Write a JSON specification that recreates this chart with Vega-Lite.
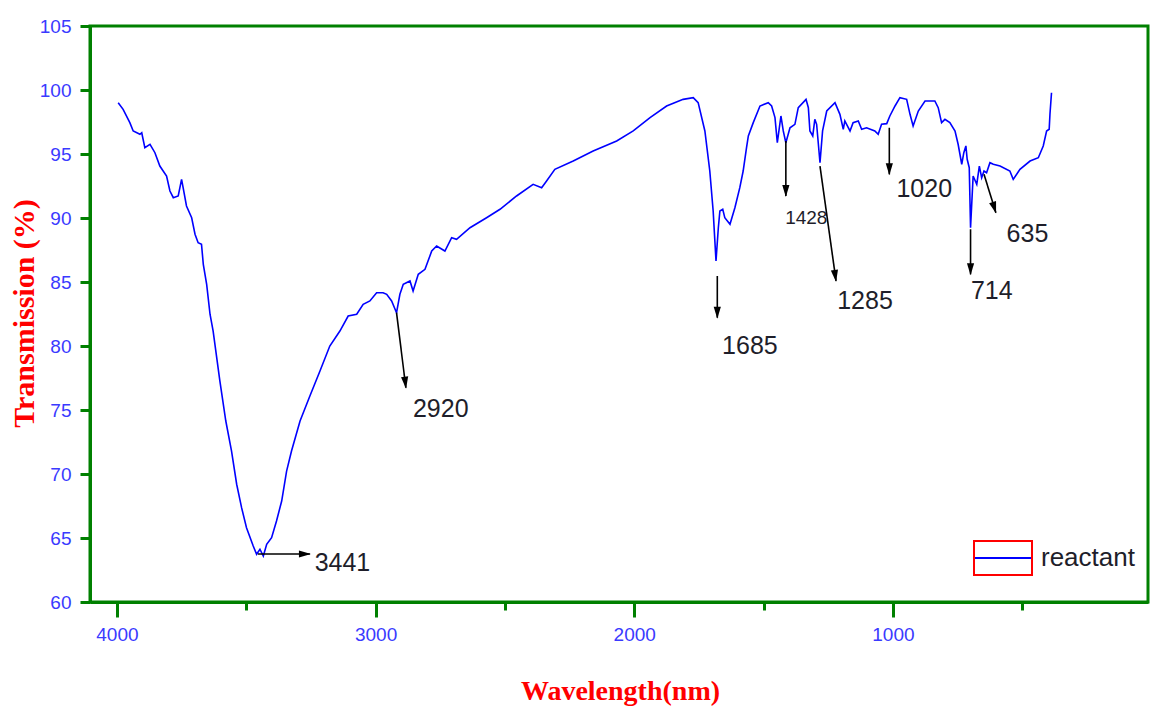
{
  "$schema": "https://vega.github.io/schema/vega-lite/v6.json",
  "width": 1058,
  "height": 576,
  "autosize": {"type": "none"},
  "padding": {"left": 90, "top": 26, "right": 6, "bottom": 106},
  "background": "white",
  "config": {"view": {"stroke": "#008000", "strokeWidth": 3}},
  "datasets": {
    "spectrum": [
      {"wavelength": 3995, "transmission": 99.01, "sample": "reactant"},
      {"wavelength": 3976, "transmission": 98.49, "sample": "reactant"},
      {"wavelength": 3950, "transmission": 97.45, "sample": "reactant"},
      {"wavelength": 3937, "transmission": 96.8, "sample": "reactant"},
      {"wavelength": 3911, "transmission": 96.54, "sample": "reactant"},
      {"wavelength": 3904, "transmission": 96.66, "sample": "reactant"},
      {"wavelength": 3892, "transmission": 95.49, "sample": "reactant"},
      {"wavelength": 3872, "transmission": 95.76, "sample": "reactant"},
      {"wavelength": 3853, "transmission": 95.1, "sample": "reactant"},
      {"wavelength": 3834, "transmission": 94.06, "sample": "reactant"},
      {"wavelength": 3808, "transmission": 93.28, "sample": "reactant"},
      {"wavelength": 3795, "transmission": 92.11, "sample": "reactant"},
      {"wavelength": 3782, "transmission": 91.59, "sample": "reactant"},
      {"wavelength": 3763, "transmission": 91.72, "sample": "reactant"},
      {"wavelength": 3750, "transmission": 93.02, "sample": "reactant"},
      {"wavelength": 3744, "transmission": 92.37, "sample": "reactant"},
      {"wavelength": 3731, "transmission": 90.94, "sample": "reactant"},
      {"wavelength": 3711, "transmission": 90.02, "sample": "reactant"},
      {"wavelength": 3698, "transmission": 88.73, "sample": "reactant"},
      {"wavelength": 3686, "transmission": 88.07, "sample": "reactant"},
      {"wavelength": 3673, "transmission": 87.95, "sample": "reactant"},
      {"wavelength": 3666, "transmission": 86.38, "sample": "reactant"},
      {"wavelength": 3653, "transmission": 84.82, "sample": "reactant"},
      {"wavelength": 3640, "transmission": 82.48, "sample": "reactant"},
      {"wavelength": 3628, "transmission": 81.17, "sample": "reactant"},
      {"wavelength": 3602, "transmission": 77.27, "sample": "reactant"},
      {"wavelength": 3579, "transmission": 74.14, "sample": "reactant"},
      {"wavelength": 3557, "transmission": 71.8, "sample": "reactant"},
      {"wavelength": 3537, "transmission": 69.2, "sample": "reactant"},
      {"wavelength": 3518, "transmission": 67.37, "sample": "reactant"},
      {"wavelength": 3499, "transmission": 65.8, "sample": "reactant"},
      {"wavelength": 3473, "transmission": 64.37, "sample": "reactant"},
      {"wavelength": 3460, "transmission": 63.73, "sample": "reactant"},
      {"wavelength": 3447, "transmission": 64.12, "sample": "reactant"},
      {"wavelength": 3434, "transmission": 63.59, "sample": "reactant"},
      {"wavelength": 3421, "transmission": 64.51, "sample": "reactant"},
      {"wavelength": 3402, "transmission": 65.02, "sample": "reactant"},
      {"wavelength": 3383, "transmission": 66.33, "sample": "reactant"},
      {"wavelength": 3363, "transmission": 67.89, "sample": "reactant"},
      {"wavelength": 3344, "transmission": 70.23, "sample": "reactant"},
      {"wavelength": 3325, "transmission": 71.8, "sample": "reactant"},
      {"wavelength": 3292, "transmission": 74.14, "sample": "reactant"},
      {"wavelength": 3254, "transmission": 76.09, "sample": "reactant"},
      {"wavelength": 3215, "transmission": 78.05, "sample": "reactant"},
      {"wavelength": 3177, "transmission": 80.0, "sample": "reactant"},
      {"wavelength": 3138, "transmission": 81.17, "sample": "reactant"},
      {"wavelength": 3106, "transmission": 82.34, "sample": "reactant"},
      {"wavelength": 3073, "transmission": 82.48, "sample": "reactant"},
      {"wavelength": 3048, "transmission": 83.26, "sample": "reactant"},
      {"wavelength": 3022, "transmission": 83.52, "sample": "reactant"},
      {"wavelength": 2996, "transmission": 84.16, "sample": "reactant"},
      {"wavelength": 2971, "transmission": 84.16, "sample": "reactant"},
      {"wavelength": 2957, "transmission": 84.04, "sample": "reactant"},
      {"wavelength": 2938, "transmission": 83.52, "sample": "reactant"},
      {"wavelength": 2919, "transmission": 82.6, "sample": "reactant"},
      {"wavelength": 2906, "transmission": 84.04, "sample": "reactant"},
      {"wavelength": 2893, "transmission": 84.82, "sample": "reactant"},
      {"wavelength": 2867, "transmission": 85.08, "sample": "reactant"},
      {"wavelength": 2855, "transmission": 84.3, "sample": "reactant"},
      {"wavelength": 2835, "transmission": 85.6, "sample": "reactant"},
      {"wavelength": 2809, "transmission": 85.99, "sample": "reactant"},
      {"wavelength": 2783, "transmission": 87.42, "sample": "reactant"},
      {"wavelength": 2764, "transmission": 87.81, "sample": "reactant"},
      {"wavelength": 2732, "transmission": 87.42, "sample": "reactant"},
      {"wavelength": 2706, "transmission": 88.46, "sample": "reactant"},
      {"wavelength": 2687, "transmission": 88.34, "sample": "reactant"},
      {"wavelength": 2635, "transmission": 89.24, "sample": "reactant"},
      {"wavelength": 2571, "transmission": 90.02, "sample": "reactant"},
      {"wavelength": 2519, "transmission": 90.68, "sample": "reactant"},
      {"wavelength": 2455, "transmission": 91.72, "sample": "reactant"},
      {"wavelength": 2391, "transmission": 92.63, "sample": "reactant"},
      {"wavelength": 2358, "transmission": 92.37, "sample": "reactant"},
      {"wavelength": 2339, "transmission": 92.89, "sample": "reactant"},
      {"wavelength": 2307, "transmission": 93.8, "sample": "reactant"},
      {"wavelength": 2236, "transmission": 94.45, "sample": "reactant"},
      {"wavelength": 2159, "transmission": 95.23, "sample": "reactant"},
      {"wavelength": 2068, "transmission": 96.02, "sample": "reactant"},
      {"wavelength": 2004, "transmission": 96.8, "sample": "reactant"},
      {"wavelength": 1939, "transmission": 97.84, "sample": "reactant"},
      {"wavelength": 1875, "transmission": 98.75, "sample": "reactant"},
      {"wavelength": 1811, "transmission": 99.27, "sample": "reactant"},
      {"wavelength": 1772, "transmission": 99.4, "sample": "reactant"},
      {"wavelength": 1753, "transmission": 99.01, "sample": "reactant"},
      {"wavelength": 1727, "transmission": 96.8, "sample": "reactant"},
      {"wavelength": 1708, "transmission": 93.67, "sample": "reactant"},
      {"wavelength": 1695, "transmission": 90.55, "sample": "reactant"},
      {"wavelength": 1684, "transmission": 86.64, "sample": "reactant"},
      {"wavelength": 1675, "transmission": 89.24, "sample": "reactant"},
      {"wavelength": 1669, "transmission": 90.55, "sample": "reactant"},
      {"wavelength": 1658, "transmission": 90.68, "sample": "reactant"},
      {"wavelength": 1650, "transmission": 90.02, "sample": "reactant"},
      {"wavelength": 1630, "transmission": 89.51, "sample": "reactant"},
      {"wavelength": 1611, "transmission": 90.8, "sample": "reactant"},
      {"wavelength": 1592, "transmission": 92.37, "sample": "reactant"},
      {"wavelength": 1579, "transmission": 93.67, "sample": "reactant"},
      {"wavelength": 1566, "transmission": 95.49, "sample": "reactant"},
      {"wavelength": 1559, "transmission": 96.41, "sample": "reactant"},
      {"wavelength": 1540, "transmission": 97.45, "sample": "reactant"},
      {"wavelength": 1514, "transmission": 98.75, "sample": "reactant"},
      {"wavelength": 1482, "transmission": 99.01, "sample": "reactant"},
      {"wavelength": 1469, "transmission": 98.75, "sample": "reactant"},
      {"wavelength": 1456, "transmission": 97.84, "sample": "reactant"},
      {"wavelength": 1447, "transmission": 95.88, "sample": "reactant"},
      {"wavelength": 1440, "transmission": 96.93, "sample": "reactant"},
      {"wavelength": 1433, "transmission": 97.97, "sample": "reactant"},
      {"wavelength": 1424, "transmission": 96.8, "sample": "reactant"},
      {"wavelength": 1414, "transmission": 95.88, "sample": "reactant"},
      {"wavelength": 1398, "transmission": 97.05, "sample": "reactant"},
      {"wavelength": 1379, "transmission": 97.32, "sample": "reactant"},
      {"wavelength": 1366, "transmission": 98.62, "sample": "reactant"},
      {"wavelength": 1336, "transmission": 99.27, "sample": "reactant"},
      {"wavelength": 1327, "transmission": 98.62, "sample": "reactant"},
      {"wavelength": 1321, "transmission": 96.8, "sample": "reactant"},
      {"wavelength": 1310, "transmission": 96.41, "sample": "reactant"},
      {"wavelength": 1302, "transmission": 97.71, "sample": "reactant"},
      {"wavelength": 1295, "transmission": 97.32, "sample": "reactant"},
      {"wavelength": 1282, "transmission": 94.32, "sample": "reactant"},
      {"wavelength": 1272, "transmission": 96.8, "sample": "reactant"},
      {"wavelength": 1256, "transmission": 98.36, "sample": "reactant"},
      {"wavelength": 1224, "transmission": 99.01, "sample": "reactant"},
      {"wavelength": 1205, "transmission": 98.1, "sample": "reactant"},
      {"wavelength": 1192, "transmission": 96.93, "sample": "reactant"},
      {"wavelength": 1186, "transmission": 97.58, "sample": "reactant"},
      {"wavelength": 1166, "transmission": 96.8, "sample": "reactant"},
      {"wavelength": 1154, "transmission": 97.45, "sample": "reactant"},
      {"wavelength": 1134, "transmission": 97.58, "sample": "reactant"},
      {"wavelength": 1121, "transmission": 96.93, "sample": "reactant"},
      {"wavelength": 1102, "transmission": 97.05, "sample": "reactant"},
      {"wavelength": 1070, "transmission": 96.8, "sample": "reactant"},
      {"wavelength": 1057, "transmission": 96.54, "sample": "reactant"},
      {"wavelength": 1044, "transmission": 97.32, "sample": "reactant"},
      {"wavelength": 1024, "transmission": 97.37, "sample": "reactant"},
      {"wavelength": 1012, "transmission": 97.97, "sample": "reactant"},
      {"wavelength": 992, "transmission": 98.75, "sample": "reactant"},
      {"wavelength": 973, "transmission": 99.4, "sample": "reactant"},
      {"wavelength": 947, "transmission": 99.27, "sample": "reactant"},
      {"wavelength": 934, "transmission": 98.1, "sample": "reactant"},
      {"wavelength": 922, "transmission": 97.19, "sample": "reactant"},
      {"wavelength": 902, "transmission": 98.36, "sample": "reactant"},
      {"wavelength": 876, "transmission": 99.14, "sample": "reactant"},
      {"wavelength": 838, "transmission": 99.14, "sample": "reactant"},
      {"wavelength": 825, "transmission": 98.62, "sample": "reactant"},
      {"wavelength": 812, "transmission": 97.45, "sample": "reactant"},
      {"wavelength": 799, "transmission": 97.71, "sample": "reactant"},
      {"wavelength": 780, "transmission": 97.45, "sample": "reactant"},
      {"wavelength": 760, "transmission": 96.8, "sample": "reactant"},
      {"wavelength": 748, "transmission": 95.76, "sample": "reactant"},
      {"wavelength": 734, "transmission": 94.2, "sample": "reactant"},
      {"wavelength": 726, "transmission": 95.1, "sample": "reactant"},
      {"wavelength": 718, "transmission": 95.63, "sample": "reactant"},
      {"wavelength": 713, "transmission": 94.59, "sample": "reactant"},
      {"wavelength": 705, "transmission": 93.93, "sample": "reactant"},
      {"wavelength": 700, "transmission": 89.24, "sample": "reactant"},
      {"wavelength": 690, "transmission": 93.28, "sample": "reactant"},
      {"wavelength": 676, "transmission": 92.63, "sample": "reactant"},
      {"wavelength": 666, "transmission": 94.06, "sample": "reactant"},
      {"wavelength": 657, "transmission": 93.15, "sample": "reactant"},
      {"wavelength": 648, "transmission": 93.67, "sample": "reactant"},
      {"wavelength": 638, "transmission": 93.54, "sample": "reactant"},
      {"wavelength": 625, "transmission": 94.32, "sample": "reactant"},
      {"wavelength": 612, "transmission": 94.2, "sample": "reactant"},
      {"wavelength": 586, "transmission": 94.06, "sample": "reactant"},
      {"wavelength": 548, "transmission": 93.67, "sample": "reactant"},
      {"wavelength": 535, "transmission": 93.02, "sample": "reactant"},
      {"wavelength": 509, "transmission": 93.8, "sample": "reactant"},
      {"wavelength": 470, "transmission": 94.45, "sample": "reactant"},
      {"wavelength": 438, "transmission": 94.71, "sample": "reactant"},
      {"wavelength": 419, "transmission": 95.63, "sample": "reactant"},
      {"wavelength": 406, "transmission": 96.8, "sample": "reactant"},
      {"wavelength": 396, "transmission": 96.93, "sample": "reactant"},
      {"wavelength": 393, "transmission": 98.1, "sample": "reactant"},
      {"wavelength": 387, "transmission": 99.79, "sample": "reactant"}
    ],
    "peaks": [
      {"peak": "3441", "w1": 3455, "t1": 63.75, "w2": 3254, "t2": 63.75, "hw": 3273, "ht": 63.75, "lw": 3128, "lt": 63.05},
      {"peak": "2920", "w1": 2919, "t1": 82.6, "w2": 2883, "t2": 76.74, "hw": 2885, "ht": 77.13, "lw": 2748, "lt": 75.05},
      {"peak": "1685", "w1": 1679, "t1": 85.47, "w2": 1679, "t2": 82.21, "hw": 1679, "ht": 82.6, "lw": 1553, "lt": 80.0},
      {"peak": "1428", "w1": 1414, "t1": 96.02, "w2": 1414, "t2": 91.72, "hw": 1414, "ht": 92.11, "lw": 1335, "lt": 90.02},
      {"peak": "1285", "w1": 1282, "t1": 94.06, "w2": 1220, "t2": 85.08, "hw": 1223, "ht": 85.47, "lw": 1108, "lt": 83.52},
      {"peak": "1020", "w1": 1014, "t1": 97.05, "w2": 1014, "t2": 93.41, "hw": 1014, "ht": 93.8, "lw": 879, "lt": 92.3},
      {"peak": "714", "w1": 700, "t1": 89.12, "w2": 700, "t2": 85.6, "hw": 700, "ht": 86.0, "lw": 618, "lt": 84.3},
      {"peak": "635", "w1": 648, "t1": 93.41, "w2": 602, "t2": 90.41, "hw": 608, "ht": 90.79, "lw": 480, "lt": 88.73}
    ]
  },
  "layer": [
    {
      "data": {"name": "spectrum"},
      "mark": {"type": "line", "strokeWidth": 1.6, "interpolate": "linear"},
      "encoding": {
        "x": {
          "field": "wavelength", "type": "quantitative", "title": "Wavelength(nm)",
          "scale": {"domain": [14, 4104], "reverse": true, "nice": false, "zero": false},
          "axis": {
            "values": [4000, 3500, 3000, 2500, 2000, 1500, 1000, 500],
            "format": "d",
            "labelExpr": "datum.value % 1000 === 0 ? datum.label : ''",
            "tickSize": {"condition": {"test": "datum.value % 1000 === 0", "value": 15}, "value": 8},
            "grid": false,
            "domainColor": "#008000", "domainWidth": 3,
            "tickColor": "#008000", "tickWidth": 3,
            "labelColor": "#3a3aff", "labelFont": "Liberation Sans", "labelFontSize": 19,
            "labelPadding": 8, "labelOverlap": false, "labelFlush": false,
            "titleFont": "Liberation Serif", "titleFontSize": 28, "titleFontWeight": "bold", "titleColor": "#ff0000",
            "titleX": 530, "titleY": 89, "titleAlign": "center", "titleBaseline": "middle"
          }
        },
        "y": {
          "field": "transmission", "type": "quantitative", "title": "Transmission (%)",
          "scale": {"domain": [60, 105], "nice": false, "zero": false},
          "axis": {
            "values": [60, 62.5, 65, 67.5, 70, 72.5, 75, 77.5, 80, 82.5, 85, 87.5, 90, 92.5, 95, 97.5, 100, 102.5, 105],
            "labelExpr": "datum.value % 5 === 0 ? datum.label : ''",
            "tickSize": {"condition": {"test": "datum.value % 5 === 0", "value": 10}, "value": 5},
            "grid": false,
            "domainColor": "#008000", "domainWidth": 3,
            "tickColor": "#008000", "tickWidth": 3,
            "labelColor": "#3a3aff", "labelFont": "Liberation Sans", "labelFontSize": 19,
            "labelPadding": 9, "labelOverlap": false, "labelFlush": false,
            "titleFont": "Liberation Serif", "titleFontSize": 30, "titleFontWeight": "bold", "titleColor": "#ff0000",
            "titleX": -66, "titleY": 287, "titleAngle": -90, "titleAlign": "center", "titleBaseline": "middle"
          }
        },
        "color": {
          "field": "sample", "type": "nominal",
          "scale": {"domain": ["reactant"], "range": ["#0000ff"]},
          "legend": {
            "title": null, "orient": "none", "legendX": 883, "legendY": 502, "padding": 0,
            "symbolType": "stroke", "symbolSize": 3364, "symbolStrokeWidth": 2,
            "labelFont": "Liberation Sans Narrow, Arial Narrow, Liberation Sans, sans-serif", "labelFontSize": 26,
            "labelColor": "#1e1e2a", "labelOffset": 8
          }
        }
      }
    },
    {
      "data": {"name": "spectrum"},
      "mark": {"type": "point", "opacity": 0, "color": "#ff0000"},
      "encoding": {
        "x": {"field": "wavelength", "type": "quantitative", "title": "Wavelength(nm)"},
        "y": {"field": "transmission", "type": "quantitative", "title": "Transmission (%)"},
        "shape": {
          "field": "sample", "type": "nominal",
          "scale": {"domain": ["reactant"], "range": ["M-1,-0.586H1V0.586H-1Z"]},
          "legend": {
            "title": null, "orient": "none", "legendX": 883, "legendY": 502, "padding": 0,
            "symbolSize": 3364, "symbolStrokeWidth": 2, "symbolStrokeColor": "#ff0000",
            "symbolFillColor": "transparent", "symbolOpacity": 1,
            "labelExpr": "''", "labelOffset": 8, "labelFontSize": 26
          }
        }
      }
    },
    {
      "data": {"name": "peaks"},
      "mark": {"type": "rule", "color": "#000000", "strokeWidth": 1.6},
      "encoding": {
        "x": {"field": "w1", "type": "quantitative", "title": "Wavelength(nm)"},
        "y": {"field": "t1", "type": "quantitative", "title": "Transmission (%)"},
        "x2": {"field": "w2"},
        "y2": {"field": "t2"}
      }
    },
    {
      "data": {"name": "peaks"},
      "mark": {"type": "point", "filled": true, "color": "#000000", "opacity": 1, "size": 144, "strokeWidth": 0},
      "encoding": {
        "x": {"field": "hw", "type": "quantitative", "title": "Wavelength(nm)"},
        "y": {"field": "ht", "type": "quantitative", "title": "Transmission (%)"},
        "shape": {
          "field": "peak", "type": "nominal", "legend": null,
          "scale": {
            "domain": ["3441", "2920", "1685", "1428", "1285", "1020", "714", "635"],
            "range": [
              "M-1,-0.6L-1,0.6L1,0Z",
              "M-0.717,-0.919L0.474,-1.066L0.122,0.993Z",
              "M-0.6,-1L0.6,-1L0,1Z",
              "M-0.6,-1L0.6,-1L0,1Z",
              "M-0.733,-0.907L0.455,-1.074L0.139,0.99Z",
              "M-0.6,-1L0.6,-1L0,1Z",
              "M-0.6,-1L0.6,-1L0,1Z",
              "M-0.866,-0.781L0.281,-1.132L0.292,0.956Z"
            ]
          }
        }
      }
    },
    {
      "data": {"name": "peaks"},
      "mark": {"type": "text", "font": "Liberation Sans Narrow, Arial Narrow, Liberation Sans, sans-serif", "color": "#1e1e2a", "align": "center", "baseline": "middle"},
      "encoding": {
        "x": {"field": "lw", "type": "quantitative", "title": "Wavelength(nm)"},
        "y": {"field": "lt", "type": "quantitative", "title": "Transmission (%)"},
        "text": {"field": "peak", "type": "nominal"},
        "size": {"condition": {"test": "datum.peak === '1428'", "value": 19}, "value": 25}
      }
    }
  ],
  "resolve": {"scale": {"shape": "independent"}}
}
